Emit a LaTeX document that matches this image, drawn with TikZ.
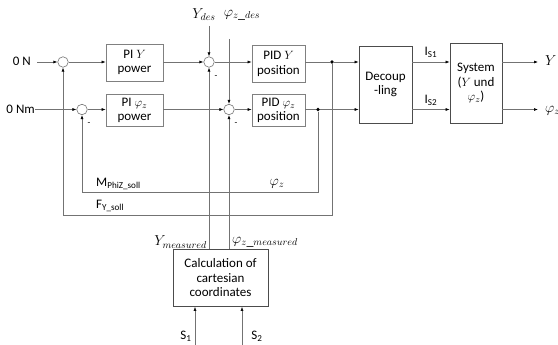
\documentclass[tikz,border=0pt]{standalone}
\usepackage{fontspec}
\setmainfont{Carlito}
\usetikzlibrary{arrows.meta,calc}
\newcommand{\mlbl}{\fontsize{14}{15}\selectfont}
\begin{document}
\begin{tikzpicture}[x=1pt,y=-1pt,
  font=\fontsize{13}{14.5}\selectfont,
  blk/.style={draw=black!50,line width=0.8pt,fill=white,align=center,inner sep=0pt},
  blkd/.style={draw=black!70,line width=0.8pt,fill=white,align=center,inner sep=0pt},
  sumc/.style={circle,draw=black!55,line width=0.6pt,fill=white,minimum size=10.5pt,inner sep=0pt},
  dotc/.style={circle,fill=black,minimum size=3.8pt,inner sep=0pt},
  ln/.style={draw=black!55,line width=0.6pt},
  arr/.style={ln,-{Latex[length=4pt,width=3pt,color=black]}},
  lbl/.style={inner sep=0pt},
  mn/.style={inner sep=0pt,font=\fontsize{9}{9}\selectfont}
]
\useasboundingbox (0,0) rectangle (558,345);
% sums
\node[sumc] (s1) at (63,62) {};
\node[sumc] (s2) at (82,109.5) {};
\node[sumc] (s3) at (209,62) {};
\node[sumc] (s4) at (229,109.5) {};
% blocks
\node[blk,minimum width=57pt,minimum height=37pt] (piy) at (134.5,62.5) {PI $Y$\\power};
\node[blk,minimum width=57pt,minimum height=32pt] (pip) at (134.5,110.5) {PI $\varphi_z$\\power};
\node[blk,minimum width=53pt,minimum height=37pt] (pidy) at (278.5,64) {PID $Y$\\position};
\node[blk,minimum width=53pt,minimum height=32pt] (pidp) at (278.5,110.5) {PID $\varphi_z$\\position};
\node[blkd,minimum width=53pt,minimum height=77pt] (dec) at (385.5,84.5) {Decoup\\-ling};
\node[blkd,minimum width=52pt,minimum height=80pt] (sys) at (476,83) {System\\($Y$ und\\$\varphi_z$)};
\node[blkd,minimum width=95pt,minimum height=57pt] (calc) at (220.5,278) {Calculation of\\cartesian\\coordinates};
% dots
\node[dotc] (d1) at (332,62) {};
\node[dotc] (d2) at (318,109.5) {};
% labels and free ends
\node[lbl,anchor=east] (l0n) at (31,61) {0 N};
\coordinate (in1) at (37,62);
\node[lbl,anchor=east] (l0nm) at (35,109) {0 Nm};
\node[lbl] (ydes) at (204,15) {\mlbl$Y_{des}$};
\node[lbl] (pdes) at (242,15) {\mlbl$\varphi_{z\_des}$};
\coordinate (ydtop) at (209,26);
\coordinate (pdtop) at (229,39);
\coordinate (o1) at (538,62);
\coordinate (o2) at (538,109.5);
\node[lbl,anchor=west] (ly) at (545,61) {\mlbl$Y$};
\node[lbl,anchor=west] (lp) at (545,111) {\mlbl$\varphi_z$};
\node[lbl] (is1) at (431,52) {I\textsubscript{S1}};
\node[lbl] (is2) at (431,100) {I\textsubscript{S2}};
\coordinate (fb1) at (332,215);
\coordinate (fb1l) at (63,215);
\coordinate (fb2) at (318,192);
\coordinate (fb2l) at (82,192);
\node[lbl,anchor=west] (lm) at (96,184) {M\textsubscript{PhiZ\_soll}};
\node[lbl] (lpz) at (277,184) {\mlbl$\varphi_z$};
\node[lbl,anchor=west] (lf) at (96,206) {F\textsubscript{Y\_soll}};
\node[lbl,anchor=east] (lym) at (207,242) {\mlbl$Y_{measured}$};
\node[lbl,anchor=west] (lpm) at (232,242) {\mlbl$\varphi_{z\_measured}$};
\coordinate (s1in) at (195,345);
\coordinate (s2in) at (242,345);
\node[lbl] (ls1) at (186,336) {S\textsubscript{1}};
\node[lbl] (ls2) at (257,336) {S\textsubscript{2}};
% minus signs
\node[mn] (m3) at ($(s3)+(7,15)$) {-};
\node[mn] (m2) at ($(s2)+(7,15)$) {-};
\node[mn] (m4) at ($(s4)+(7,15)$) {-};
% connectors row 1
\draw[arr] (in1) -- (s1);
\draw[arr] (s1) -- (s1 -| piy.west);
\draw[arr] (piy.east |- s3) -- (s3);
\draw[arr] (s3) -- (s3 -| pidy.west);
\draw[arr] (ydtop) -- (s3);
\draw[ln] (pidy.east |- d1) -- (d1);
\draw[arr] (d1) -- (d1 -| dec.west);
\draw[arr] (dec.east |- d1) -- (d1 -| sys.west);
\draw[arr] (sys.east |- o1) -- (o1);
% row 2
\draw[arr] (l0nm.east) ++(0,0.5) -- (s2);
\draw[arr] (s2) -- (s2 -| pip.west);
\draw[arr] (pip.east |- s4) -- (s4);
\draw[arr] (s4) -- (s4 -| pidp.west);
\draw[arr] (pdtop) -- (s4);
\draw[ln] (pidp.east |- d2) -- (d2);
\draw[arr] (d2) -- (d2 -| dec.west);
\draw[arr] (dec.east |- d2) -- (d2 -| sys.west);
\draw[arr] (sys.east |- o2) -- (o2);
% feedback
\draw[arr] (d1) -- (fb1) -- (fb1l) -- (s1);
\draw[arr] (d2) -- (fb2) -- (fb2l) -- (s2);
% measured
\draw[arr] (calc.north -| s3) -- (s3);
\draw[arr] (calc.north -| s4) -- (s4);
\draw[arr] (s1in) -- (s1in |- calc.south);
\draw[arr] (s2in) -- (s2in |- calc.south);
\end{tikzpicture}
\end{document}
